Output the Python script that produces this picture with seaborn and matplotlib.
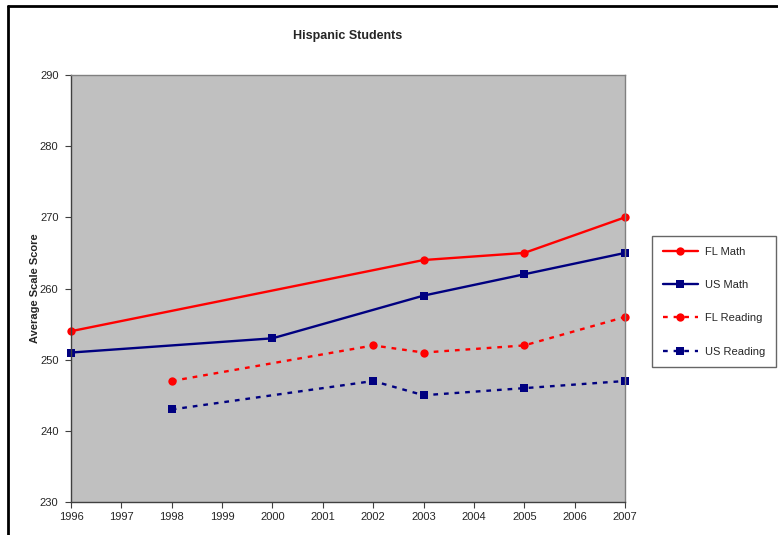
"""
Hispanic Students: average scale scores, FL vs US, math and reading.
"""

import matplotlib.pyplot as plt
from matplotlib.lines import Line2D
import pandas as pd
import seaborn as sns

# ── data ──────────────────────────────────────────────────────────────────────

fl_math_years = [1996, 2003, 2005, 2007]
fl_math = [254, 264, 265, 270]

us_math_years = [1996, 2000, 2003, 2005, 2007]
us_math = [251, 253, 259, 262, 265]

fl_read_years = [1998, 2002, 2003, 2005, 2007]
fl_read = [247, 252, 251, 252, 256]

us_read_years = [1998, 2002, 2003, 2005, 2007]
us_read = [243, 247, 245, 246, 247]

series_names = ["FL Math", "US Math", "FL Reading", "US Reading"]
x_ticks = list(range(1996, 2008))
y_ticks = list(range(230, 291, 10))

frames = []
for name, yrs, vals in zip(series_names,
                           [fl_math_years, us_math_years, fl_read_years, us_read_years],
                           [fl_math, us_math, fl_read, us_read]):
    frames.append(pd.DataFrame({"year": yrs, "score": vals, "series": name}))
df = pd.concat(frames, ignore_index=True)

# ── style ─────────────────────────────────────────────────────────────────────

sns.set_style("white")
plt.rcParams["font.family"] = ["Liberation Sans", "DejaVu Sans"]

palette = {"FL Math": "#FF0000", "US Math": "#000080",
           "FL Reading": "#FF0000", "US Reading": "#000080"}
markers = {"FL Math": "o", "US Math": "s", "FL Reading": "o", "US Reading": "s"}
dashes = {"FL Math": "", "US Math": "", "FL Reading": (2, 2.5), "US Reading": (2, 2.5)}

fig = plt.figure(figsize=(7.78, 5.35), dpi=100)
ax = fig.add_axes([71 / 778, 33 / 535, 554 / 778, 427 / 535])
ax.set_facecolor("#C0C0C0")

sns.lineplot(data=df, x="year", y="score", hue="series", style="series",
             hue_order=series_names, style_order=series_names,
             palette=palette, markers=markers, dashes=dashes,
             linewidth=1.7, markersize=6, markeredgewidth=0,
             legend=False, ax=ax)
for line in ax.lines:
    line.set_clip_on(False)

ax.set_xlim(1996, 2007)
ax.set_ylim(230, 290)
ax.set_xticks(x_ticks)
ax.set_yticks(y_ticks)
ax.tick_params(axis="both", direction="out", length=4, width=0.8,
               color="#404040", labelsize=8, pad=3, bottom=True, left=True)
ax.tick_params(axis="y", pad=5)
for side in ["left", "bottom", "right", "top"]:
    ax.spines[side].set_visible(True)
    ax.spines[side].set_color("#808080")
    ax.spines[side].set_linewidth(1.0)
ax.spines["left"].set_color("#404040")
ax.spines["bottom"].set_color("#404040")

ax.set_xlabel("")
ax.set_ylabel("Average Scale Score", fontsize=8, fontweight="bold", labelpad=0)
ax.set_title("Hispanic Students", fontsize=9, fontweight="bold", pad=26)

# legend built from the same styles
handles = []
for name in series_names:
    ls = "-" if dashes[name] == "" else (0, dashes[name])
    handles.append(Line2D([0], [0], color=palette[name], marker=markers[name],
                          linestyle=ls, linewidth=1.7, markersize=6,
                          markeredgewidth=0))
leg = fig.legend(handles, series_names, loc="upper left",
                 bbox_to_anchor=(652 / 778, 1 - 236 / 535), frameon=True,
                 fancybox=False, edgecolor="#404040", fontsize=8,
                 handlelength=3.2, handletextpad=0.6, labelspacing=2.1,
                 borderpad=0.95, borderaxespad=0)
leg.get_frame().set_linewidth(1.0)

# page border around the chart (cropped on right and bottom)
fig.add_artist(Line2D([8 / 778, 1.0], [1 - 6 / 535, 1 - 6 / 535],
                      color="black", linewidth=2, transform=fig.transFigure))
fig.add_artist(Line2D([8 / 778, 8 / 778], [0, 1 - 6 / 535],
                      color="black", linewidth=2, transform=fig.transFigure))

fig.savefig("out.png", dpi=100)
